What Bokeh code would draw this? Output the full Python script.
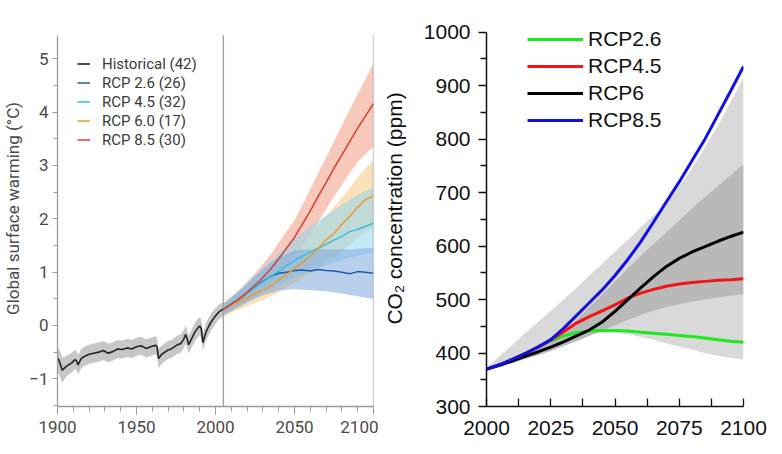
from bokeh.plotting import figure
from bokeh.layouts import row
from bokeh.models import FixedTicker, Legend, LegendItem, Range1d
from bokeh.embed import file_html
from bokeh.resources import INLINE

# ---------------- Left chart: global surface warming ----------------
hist_years = [1900, 1901, 1903, 1905, 1907, 1909, 1911, 1912, 1913, 1915,
              1917, 1920, 1923, 1926, 1929, 1932, 1935, 1938, 1941, 1944,
              1947, 1950, 1953, 1956, 1959, 1962, 1963, 1964, 1966, 1968,
              1970, 1972, 1974, 1976, 1978, 1980, 1981, 1982, 1983, 1985,
              1987, 1989, 1990, 1991, 1992, 1994, 1996, 1998, 2000, 2002, 2005]
hist_mean = [-0.62, -0.65, -0.84, -0.78, -0.74, -0.70, -0.64, -0.66, -0.74, -0.62,
             -0.58, -0.54, -0.52, -0.50, -0.47, -0.52, -0.49, -0.44, -0.45, -0.42,
             -0.44, -0.40, -0.38, -0.43, -0.40, -0.37, -0.40, -0.62, -0.54, -0.50,
             -0.46, -0.44, -0.40, -0.36, -0.34, -0.25, -0.17, -0.24, -0.36, -0.24,
             -0.12, -0.04, -0.01, -0.06, -0.32, -0.12, 0.00, 0.10, 0.18, 0.25, 0.31]
hist_lo = [-0.85, -0.92, -1.08, -0.98, -0.92, -0.88, -0.82, -0.84, -0.92, -0.80,
           -0.76, -0.72, -0.70, -0.68, -0.65, -0.69, -0.66, -0.61, -0.62, -0.59,
           -0.61, -0.57, -0.55, -0.60, -0.57, -0.54, -0.57, -0.80, -0.72, -0.67,
           -0.63, -0.61, -0.57, -0.53, -0.51, -0.42, -0.34, -0.41, -0.53, -0.41,
           -0.29, -0.21, -0.18, -0.23, -0.48, -0.28, -0.16, -0.06, 0.03, 0.11, 0.18]
hist_hi = [-0.42, -0.44, -0.60, -0.58, -0.55, -0.51, -0.46, -0.48, -0.56, -0.44,
           -0.40, -0.36, -0.34, -0.32, -0.29, -0.34, -0.32, -0.27, -0.28, -0.25,
           -0.27, -0.23, -0.21, -0.26, -0.23, -0.20, -0.23, -0.44, -0.37, -0.33,
           -0.29, -0.27, -0.23, -0.19, -0.17, -0.08, 0.00, -0.07, -0.19, -0.07,
           0.05, 0.13, 0.16, 0.11, -0.15, 0.04, 0.16, 0.26, 0.33, 0.39, 0.44]

proj_years = [2005, 2010, 2015, 2020, 2025, 2030, 2035, 2040, 2045, 2050,
              2055, 2060, 2065, 2070, 2075, 2080, 2085, 2090, 2095, 2100]
rcp26_mean = [0.30, 0.40, 0.50, 0.61, 0.72, 0.83, 0.92, 0.98, 1.00, 1.03,
              1.04, 1.02, 1.05, 1.03, 1.02, 1.00, 0.97, 1.01, 1.00, 0.98]
rcp26_lo = [0.20, 0.28, 0.35, 0.43, 0.50, 0.56, 0.61, 0.65, 0.67, 0.68,
            0.67, 0.66, 0.65, 0.64, 0.62, 0.60, 0.57, 0.55, 0.52, 0.50]
rcp26_hi = [0.40, 0.52, 0.64, 0.77, 0.92, 1.06, 1.18, 1.28, 1.34, 1.40,
            1.42, 1.42, 1.44, 1.43, 1.42, 1.43, 1.42, 1.44, 1.45, 1.45]
rcp45_mean = [0.30, 0.40, 0.50, 0.61, 0.72, 0.82, 0.92, 1.02, 1.12, 1.22,
              1.30, 1.38, 1.45, 1.52, 1.60, 1.67, 1.76, 1.80, 1.86, 1.92]
rcp45_lo = [0.20, 0.28, 0.36, 0.45, 0.53, 0.61, 0.68, 0.76, 0.83, 0.90,
            0.97, 1.03, 1.08, 1.13, 1.18, 1.23, 1.27, 1.31, 1.34, 1.38]
rcp45_hi = [0.40, 0.53, 0.66, 0.80, 0.94, 1.08, 1.22, 1.36, 1.50, 1.62,
            1.74, 1.85, 1.96, 2.06, 2.16, 2.26, 2.36, 2.44, 2.52, 2.58]
rcp60_mean = [0.30, 0.38, 0.45, 0.52, 0.59, 0.66, 0.74, 0.85, 0.96, 1.07,
              1.18, 1.30, 1.45, 1.60, 1.73, 1.90, 2.05, 2.22, 2.36, 2.43]
rcp60_lo = [0.16, 0.24, 0.30, 0.36, 0.42, 0.48, 0.55, 0.63, 0.71, 0.80,
            0.89, 0.98, 1.08, 1.18, 1.28, 1.40, 1.52, 1.65, 1.76, 1.85]
rcp60_hi = [0.42, 0.52, 0.61, 0.70, 0.80, 0.90, 1.02, 1.14, 1.28, 1.42,
            1.58, 1.74, 1.90, 2.06, 2.22, 2.40, 2.58, 2.78, 2.95, 3.10]
rcp85_mean = [0.30, 0.40, 0.50, 0.62, 0.76, 0.90, 1.06, 1.25, 1.45, 1.65,
              1.90, 2.15, 2.42, 2.68, 2.95, 3.20, 3.45, 3.70, 3.93, 4.16]
rcp85_lo = [0.18, 0.26, 0.34, 0.45, 0.56, 0.68, 0.82, 0.98, 1.14, 1.30,
            1.50, 1.72, 1.94, 2.18, 2.42, 2.64, 2.86, 3.06, 3.22, 3.35]
rcp85_hi = [0.42, 0.54, 0.67, 0.82, 0.98, 1.15, 1.34, 1.55, 1.76, 1.98,
            2.26, 2.56, 2.86, 3.15, 3.45, 3.75, 4.05, 4.34, 4.62, 4.92]

left_labels = ["Historical (42)", "RCP 2.6 (26)", "RCP 4.5 (32)", "RCP 6.0 (17)", "RCP 8.5 (30)"]
left_x_ticks = [1900, 1950, 2000, 2050, 2100]
left_x_minor = [1910, 1920, 1930, 1940, 1960, 1970, 1980, 1990, 2010, 2020, 2030, 2040, 2060, 2070, 2080, 2090]
left_y_ticks = [-1, 0, 1, 2, 3, 4, 5]
left_y_minor = [-1.5, -0.5, 0.5, 1.5, 2.5, 3.5, 4.5]
left_y_axis_span = (-1.52, 5.44)
divider_years = [2005, 2100]

# ---------------- Right chart: CO2 concentration ----------------
co2_years = [2000, 2005, 2010, 2015, 2020, 2025, 2030, 2035, 2040, 2045, 2050,
             2055, 2060, 2065, 2070, 2075, 2080, 2085, 2090, 2095, 2100]
co2_rcp26 = [370, 378, 388, 399, 411, 423, 432, 438, 441, 442, 442, 441, 439, 437, 435, 433, 431, 428, 425, 422, 420]
co2_rcp45 = [370, 378, 388, 399, 411, 424, 440, 456, 468, 479, 490, 503, 512, 519, 525, 529, 532, 534, 536, 537, 539]
co2_rcp6 = [370, 377, 385, 394, 402, 411, 421, 432, 443, 458, 478, 500, 522, 543, 562, 577, 589, 599, 609, 618, 626]
co2_rcp85 = [370, 378, 388, 399, 411, 425, 446, 470, 494, 518, 545, 575, 608, 645, 683, 720, 760, 800, 845, 890, 936]
wide_hi = [372, 394, 415, 437, 458, 479, 500, 522, 545, 567, 590, 612, 635, 657, 680, 712, 745, 785, 825, 870, 915]
wide_lo = [366, 374, 383, 393, 403, 414, 424, 432, 437, 439, 438, 435, 430, 425, 418, 412, 406, 400, 395, 391, 388]
core_hi = [371, 380, 390, 400, 410, 420, 440, 462, 486, 510, 534, 558, 582, 604, 626, 648, 671, 692, 712, 733, 753]
core_lo = [368, 374, 381, 389, 396, 404, 413, 422, 432, 442, 452, 462, 471, 479, 486, 491, 496, 500, 504, 507, 510]

right_labels = ["RCP2.6", "RCP4.5", "RCP6", "RCP8.5"]
right_x_ticks = [2000, 2025, 2050, 2075, 2100]
right_x_minor = [2012.5, 2037.5, 2062.5, 2087.5]
right_y_ticks = [300, 400, 500, 600, 700, 800, 900, 1000]
right_y_minor = [350, 450, 550, 650, 750, 850, 950]
right_y_axis_span = (300, 1000)

H = 438
TOP = 10
BOTTOM = 32

# ================= build left =================
LF = "Roboto"
p1 = figure(width=378, height=H, x_range=Range1d(1900, 2100), y_range=Range1d(-1.519, 5.906),
            output_backend="svg", toolbar_location=None,
            min_border_left=57, min_border_right=5, min_border_top=TOP, min_border_bottom=BOTTOM)
p1.outline_line_color = None
p1.grid.visible = False
p1.background_fill_color = "white"
p1.border_fill_color = "white"

p1.varea(x=hist_years, y1=hist_lo, y2=hist_hi, fill_color="#b4b4b4", fill_alpha=0.75)
p1.varea(x=proj_years, y1=rcp85_lo, y2=rcp85_hi, fill_color="#f4a58c", fill_alpha=0.6)
p1.varea(x=proj_years, y1=rcp60_lo, y2=rcp60_hi, fill_color="#f9cd8a", fill_alpha=0.6)
p1.varea(x=proj_years, y1=rcp45_lo, y2=rcp45_hi, fill_color="#8fd6f2", fill_alpha=0.55)
p1.varea(x=proj_years, y1=rcp26_lo, y2=rcp26_hi, fill_color="#7fa9de", fill_alpha=0.55)

p1.segment(x0=divider_years, y0=[left_y_axis_span[0]] * 2, x1=divider_years,
           y1=[left_y_axis_span[1]] * 2, line_color="#a0a0a0", line_width=1.3)

r_hist = p1.line(hist_years, hist_mean, line_color="#222222", line_width=1.6)
r26 = p1.line(proj_years, rcp26_mean, line_color="#1f5aa6", line_width=1.5)
r45 = p1.line(proj_years, rcp45_mean, line_color="#35bfe0", line_width=1.5)
r60 = p1.line(proj_years, rcp60_mean, line_color="#ee9a2a", line_width=1.5)
r85 = p1.line(proj_years, rcp85_mean, line_color="#d43f2c", line_width=1.5)

leg1 = Legend(items=[LegendItem(label=l, renderers=[r]) for l, r in
                     zip(left_labels, [r_hist, r26, r45, r60, r85])],
              location=(20, 257))
leg1.border_line_color = None
leg1.background_fill_alpha = 0
leg1.padding = 0
leg1.margin = 0
leg1.spacing = 0
leg1.label_height = 19
leg1.glyph_height = 19
leg1.glyph_width = 13
leg1.label_standoff = 12
leg1.label_text_font = LF
leg1.label_text_font_size = "15px"
leg1.label_text_color = "#3a3a3a"
p1.add_layout(leg1)

for ax in (p1.xaxis[0], p1.yaxis[0]):
    ax.axis_line_color = "#9a9a9a"
    ax.axis_line_width = 1.3
    ax.major_tick_line_color = "#9a9a9a"
    ax.minor_tick_line_color = "#9a9a9a"
    ax.major_label_text_font = LF
    ax.major_label_text_font_size = "17px"
    ax.major_label_text_color = "#4a4a4a"
    ax.major_tick_in = 0
    ax.minor_tick_in = 0
p1.yaxis.bounds = left_y_axis_span
p1.xaxis.ticker = FixedTicker(ticks=left_x_ticks, minor_ticks=left_x_minor)
p1.yaxis.ticker = FixedTicker(ticks=left_y_ticks, minor_ticks=left_y_minor)
p1.xaxis.major_tick_out = 8
p1.xaxis.minor_tick_out = 5
p1.xaxis.major_label_standoff = 6
p1.yaxis.major_tick_out = 5
p1.yaxis.minor_tick_out = 4
p1.yaxis.major_label_standoff = 4
p1.yaxis.axis_label = "Global surface warming (°C)"
p1.yaxis.axis_label_text_font = LF
p1.yaxis.axis_label_text_font_size = "17px"
p1.yaxis.axis_label_text_font_style = "normal"
p1.yaxis.axis_label_text_color = "#4a4a4a"
p1.yaxis.axis_label_standoff = 3

# ================= build right =================
RF = "Liberation Sans"
p2 = figure(width=396, height=H, x_range=Range1d(2000, 2100), y_range=Range1d(300, 1040.6),
            output_backend="svg", toolbar_location=None,
            min_border_left=108, min_border_right=31, min_border_top=TOP, min_border_bottom=BOTTOM)
p2.outline_line_color = None
p2.grid.visible = False
p2.background_fill_color = "white"
p2.border_fill_color = "white"

p2.varea(x=co2_years, y1=wide_lo, y2=wide_hi, fill_color="#d9d9d9", fill_alpha=1.0)
p2.varea(x=co2_years, y1=core_lo, y2=core_hi, fill_color="#b9b9b9", fill_alpha=1.0)

c26 = p2.line(co2_years, co2_rcp26, line_color="#1ee81e", line_width=3)
c45 = p2.line(co2_years, co2_rcp45, line_color="#f01414", line_width=3)
c6 = p2.line(co2_years, co2_rcp6, line_color="#000000", line_width=3)
c85 = p2.line(co2_years, co2_rcp85, line_color="#1010e6", line_width=3)

leg2 = Legend(items=[LegendItem(label=l, renderers=[r]) for l, r in
                     zip(right_labels, [c26, c45, c6, c85])],
              location=(41, 273))
leg2.border_line_color = None
leg2.background_fill_alpha = 0
leg2.padding = 0
leg2.margin = 0
leg2.spacing = 1
leg2.label_height = 26
leg2.glyph_height = 26
leg2.glyph_width = 56
leg2.label_standoff = 5
leg2.label_text_font = RF
leg2.label_text_font_size = "21px"
leg2.label_text_color = "#111111"
p2.add_layout(leg2)

for ax in (p2.xaxis[0], p2.yaxis[0]):
    ax.axis_line_color = "#111111"
    ax.axis_line_width = 1.5
    ax.major_tick_line_color = "#111111"
    ax.minor_tick_line_color = "#111111"
    ax.major_tick_line_width = 1.3
    ax.minor_tick_line_width = 1.3
    ax.major_label_text_font = RF
    ax.major_label_text_font_size = "21px"
    ax.major_label_text_color = "#111111"
p2.yaxis.bounds = right_y_axis_span
p2.xaxis.ticker = FixedTicker(ticks=right_x_ticks, minor_ticks=right_x_minor)
p2.yaxis.ticker = FixedTicker(ticks=right_y_ticks, minor_ticks=right_y_minor)
p2.xaxis.major_tick_in = 8
p2.xaxis.major_tick_out = 0
p2.xaxis.minor_tick_in = 8
p2.xaxis.minor_tick_out = 0
p2.xaxis.major_label_standoff = 14
p2.yaxis.major_tick_in = 0
p2.yaxis.major_tick_out = 8
p2.yaxis.minor_tick_in = 0
p2.yaxis.minor_tick_out = 6
p2.yaxis.major_label_standoff = 8
p2.yaxis.axis_label = "CO₂ concentration (ppm)"
p2.yaxis.axis_label_text_font = RF
p2.yaxis.axis_label_text_font_size = "21px"
p2.yaxis.axis_label_text_font_style = "normal"
p2.yaxis.axis_label_text_color = "#111111"
p2.yaxis.axis_label_standoff = 15

layout = row(p1, p2)
open("out.html", "w").write(file_html(layout, INLINE))
